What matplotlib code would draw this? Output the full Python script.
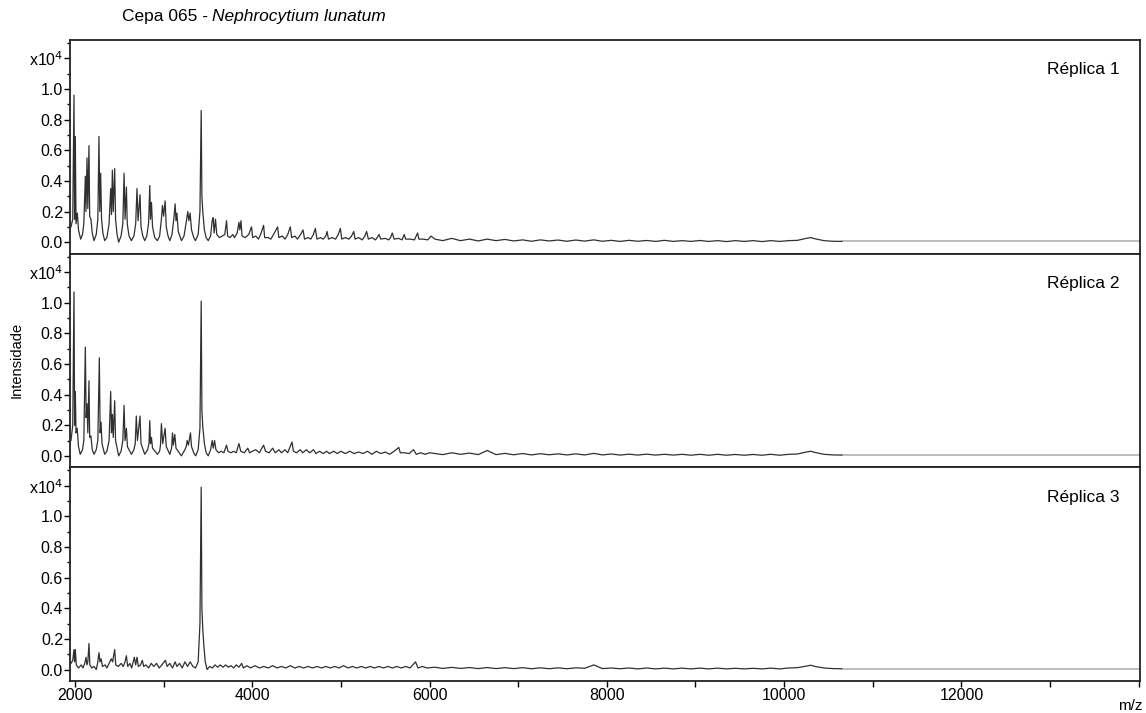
import numpy as np
import matplotlib
matplotlib.use('Agg')
import matplotlib.pyplot as plt
from matplotlib.ticker import MultipleLocator, FixedLocator

plt.rcParams['font.family'] = ['Liberation Sans', 'DejaVu Sans']

# ---- dados (intensidade em x10^4) ----
labels = ['Réplica 1', 'Réplica 2', 'Réplica 3']

rep1_low_mz = [1955, 1975, 1989, 1996, 2004, 2012, 2027, 2040, 2064, 2085, 2100, 2117, 2124, 2136, 2145,
               2158, 2166, 2180, 2195, 2215, 2240, 2258, 2271, 2280, 2290, 2300, 2315, 2335, 2360, 2385,
               2403, 2412, 2422, 2432, 2448, 2458, 2475, 2493, 2520, 2540, 2554, 2565, 2580, 2590, 2610,
               2637, 2665, 2685, 2700, 2712, 2734, 2745, 2765, 2787, 2810, 2830, 2844, 2852, 2863, 2875,
               2900, 2930, 2955, 2975, 2987, 3000, 3017, 3030, 3050, 3070, 3095, 3115, 3130, 3140, 3150,
               3165, 3201, 3230, 3255, 3273, 3285, 3299, 3315, 3340, 3359, 3390, 3410, 3424, 3432, 3442,
               3460, 3480, 3503, 3530, 3548, 3559, 3570, 3585, 3600, 3630, 3660, 3690, 3710, 3722, 3750,
               3780, 3800, 3830, 3850, 3860, 3873, 3885, 3920, 3960, 3992, 4005, 4040, 4070, 4100, 4128,
               4140, 4180, 4210, 4240, 4286, 4300, 4340, 4370, 4400, 4429, 4445, 4480, 4510, 4545, 4573,
               4590, 4630, 4660, 4690, 4712, 4730, 4770, 4800, 4830, 4844, 4860, 4900, 4940, 4970, 4994,
               5010, 5050, 5090, 5120, 5145, 5160, 5200, 5240, 5270, 5290, 5310, 5350, 5390, 5410, 5430,
               5450, 5500, 5540, 5560, 5580, 5600, 5650, 5690, 5715, 5730, 5780, 5830, 5865, 5880, 5930,
               5980, 6017]
rep1_low_int = [0.10, 0.15, 0.96, 0.15, 0.69, 0.12, 0.19, 0.08, 0.02, 0.05, 0.12, 0.43, 0.20, 0.55, 0.22,
                0.63, 0.17, 0.15, 0.06, 0.01, 0.05, 0.15, 0.69, 0.20, 0.45, 0.15, 0.06, 0.01, 0.03, 0.12,
                0.35, 0.18, 0.47, 0.20, 0.48, 0.15, 0.05, 0.00, 0.04, 0.12, 0.45, 0.15, 0.36, 0.12, 0.04,
                0.01, 0.04, 0.12, 0.35, 0.14, 0.31, 0.10, 0.04, 0.01, 0.04, 0.12, 0.37, 0.15, 0.26, 0.10,
                0.03, 0.01, 0.04, 0.15, 0.24, 0.17, 0.27, 0.10, 0.04, 0.01, 0.05, 0.15, 0.25, 0.14, 0.19,
                0.07, 0.01, 0.04, 0.13, 0.20, 0.14, 0.19, 0.08, 0.03, 0.01, 0.05, 0.20, 0.86, 0.30, 0.20,
                0.08, 0.03, 0.01, 0.04, 0.14, 0.16, 0.06, 0.15, 0.05, 0.03, 0.04, 0.05, 0.14, 0.04, 0.03,
                0.05, 0.03, 0.06, 0.13, 0.08, 0.14, 0.04, 0.03, 0.05, 0.10, 0.03, 0.04, 0.02, 0.06, 0.11,
                0.03, 0.03, 0.02, 0.05, 0.10, 0.03, 0.04, 0.02, 0.05, 0.10, 0.03, 0.04, 0.02, 0.05, 0.08,
                0.02, 0.03, 0.02, 0.05, 0.09, 0.02, 0.03, 0.02, 0.04, 0.07, 0.02, 0.03, 0.02, 0.05, 0.09,
                0.02, 0.03, 0.02, 0.04, 0.07, 0.02, 0.03, 0.015, 0.04, 0.07, 0.02, 0.03, 0.015, 0.03, 0.05,
                0.02, 0.025, 0.015, 0.03, 0.06, 0.02, 0.025, 0.015, 0.05, 0.02, 0.02, 0.015, 0.06, 0.02, 0.02,
                0.015, 0.04]

rep2_low_mz = [1955, 1975, 1989, 1996, 2004, 2012, 2025, 2040, 2060, 2085, 2100, 2117, 2126, 2136, 2145,
               2158, 2166, 2180, 2195, 2215, 2240, 2258, 2275, 2284, 2294, 2305, 2335, 2360, 2385, 2403,
               2412, 2422, 2432, 2448, 2458, 2493, 2520, 2540, 2554, 2565, 2580, 2592, 2637, 2665, 2680,
               2692, 2705, 2734, 2745, 2787, 2820, 2835, 2844, 2852, 2863, 2875, 2930, 2955, 2965, 2975,
               2990, 3017, 3030, 3070, 3090, 3100, 3110, 3126, 3140, 3201, 3240, 3255, 3266, 3280, 3303,
               3315, 3340, 3362, 3390, 3410, 3424, 3432, 3442, 3460, 3480, 3503, 3530, 3548, 3560, 3575,
               3590, 3620, 3650, 3680, 3710, 3725, 3760, 3790, 3820, 3850, 3870, 3910, 3950, 3970, 4000,
               4040, 4080, 4128, 4150, 4190, 4230, 4260, 4300, 4330, 4370, 4400, 4448, 4465, 4500, 4540,
               4570, 4610, 4650, 4690, 4720, 4760, 4800, 4840, 4870, 4920, 4960, 5000, 5050, 5100, 5150,
               5200, 5250, 5300, 5350, 5400, 5450, 5500, 5550, 5600, 5653, 5670, 5720, 5770, 5820, 5850,
               5900, 5950, 6000]
rep2_low_int = [0.10, 0.20, 1.07, 0.20, 0.42, 0.15, 0.18, 0.06, 0.01, 0.04, 0.10, 0.71, 0.25, 0.34, 0.15,
                0.49, 0.12, 0.13, 0.04, 0.01, 0.04, 0.10, 0.64, 0.15, 0.22, 0.08, 0.01, 0.03, 0.10, 0.42,
                0.15, 0.27, 0.12, 0.36, 0.10, 0.00, 0.03, 0.10, 0.33, 0.10, 0.18, 0.06, 0.01, 0.04, 0.08,
                0.26, 0.10, 0.26, 0.08, 0.01, 0.04, 0.08, 0.23, 0.08, 0.12, 0.05, 0.01, 0.03, 0.07, 0.21,
                0.08, 0.18, 0.06, 0.01, 0.05, 0.15, 0.07, 0.14, 0.05, 0.00, 0.04, 0.06, 0.10, 0.07, 0.15,
                0.06, 0.02, 0.00, 0.04, 0.18, 1.01, 0.30, 0.19, 0.08, 0.02, 0.00, 0.04, 0.10, 0.05, 0.10,
                0.04, 0.02, 0.03, 0.02, 0.07, 0.03, 0.02, 0.03, 0.02, 0.08, 0.03, 0.02, 0.05, 0.02, 0.03,
                0.04, 0.02, 0.07, 0.03, 0.02, 0.05, 0.02, 0.04, 0.02, 0.04, 0.02, 0.09, 0.03, 0.02, 0.04,
                0.02, 0.04, 0.02, 0.04, 0.015, 0.03, 0.015, 0.03, 0.015, 0.03, 0.015, 0.03, 0.015, 0.03, 0.015,
                0.025, 0.015, 0.03, 0.01, 0.03, 0.015, 0.025, 0.01, 0.03, 0.055, 0.02, 0.02, 0.015, 0.04, 0.01,
                0.02, 0.01, 0.02]

rep3_low_mz = [1955, 1975, 1989, 1996, 2004, 2015, 2040, 2070, 2090, 2110, 2125, 2135, 2145, 2158, 2168,
               2190, 2215, 2240, 2255, 2271, 2282, 2295, 2310, 2340, 2360, 2385, 2410, 2425, 2448, 2460,
               2490, 2520, 2545, 2565, 2580, 2595, 2620, 2640, 2670, 2685, 2700, 2715, 2740, 2760, 2775,
               2800, 2830, 2860, 2890, 2920, 2950, 2980, 3020, 3040, 3070, 3100, 3130, 3150, 3180, 3210,
               3240, 3270, 3300, 3330, 3360, 3390, 3410, 3424, 3432, 3442, 3455, 3470, 3490, 3520, 3550,
               3580, 3610, 3640, 3670, 3700, 3730, 3760, 3790, 3820, 3850, 3880, 3900, 3940, 3980, 4030,
               4080, 4130, 4180, 4230, 4280, 4330, 4380, 4430, 4480, 4530, 4580, 4630, 4680, 4730, 4780,
               4830, 4880, 4930, 4980, 5030, 5080, 5130, 5180, 5230, 5280, 5330, 5380, 5430, 5480, 5530,
               5580, 5630, 5680, 5730, 5780, 5842, 5870, 5920, 5970]
rep3_low_int = [0.04, 0.06, 0.13, 0.05, 0.13, 0.03, 0.01, 0.03, 0.01, 0.04, 0.08, 0.03, 0.05, 0.17, 0.03,
                0.01, 0.02, 0.00, 0.04, 0.11, 0.05, 0.07, 0.02, 0.03, 0.01, 0.04, 0.07, 0.05, 0.13, 0.03,
                0.02, 0.04, 0.02, 0.05, 0.09, 0.02, 0.04, 0.01, 0.08, 0.03, 0.08, 0.02, 0.03, 0.06, 0.02,
                0.03, 0.01, 0.04, 0.02, 0.04, 0.01, 0.03, 0.06, 0.02, 0.04, 0.01, 0.05, 0.02, 0.04, 0.01,
                0.05, 0.02, 0.05, 0.02, 0.01, 0.05, 0.30, 1.19, 0.40, 0.26, 0.15, 0.05, 0.00, 0.02, 0.01,
                0.03, 0.015, 0.03, 0.015, 0.03, 0.015, 0.025, 0.01, 0.03, 0.015, 0.04, 0.01, 0.025, 0.01, 0.025,
                0.01, 0.02, 0.01, 0.025, 0.01, 0.02, 0.01, 0.025, 0.01, 0.02, 0.01, 0.02, 0.01, 0.02, 0.01,
                0.02, 0.01, 0.02, 0.01, 0.025, 0.01, 0.02, 0.01, 0.02, 0.01, 0.02, 0.01, 0.02, 0.01, 0.02,
                0.01, 0.02, 0.01, 0.02, 0.01, 0.05, 0.01, 0.02, 0.01]

# cauda comum (m/z) e intensidades de cada réplica
tail_mz = [6060, 6150, 6250, 6350, 6450, 6550, 6650, 6750, 6850, 6950, 7050, 7150, 7250, 7350, 7450,
           7550, 7650, 7750, 7853, 7950, 8050, 8150, 8250, 8350, 8450, 8550, 8650, 8750, 8850, 8950,
           9050, 9150, 9250, 9350, 9450, 9550, 9650, 9750, 9850, 9950, 10050, 10150, 10250, 10300, 10350,
           10450, 10550, 10650]
rep1_tail_int = [0.02, 0.01, 0.025, 0.01, 0.02, 0.008, 0.02, 0.01, 0.018, 0.008, 0.015, 0.006, 0.015, 0.008, 0.014,
                 0.006, 0.014, 0.007, 0.015, 0.006, 0.012, 0.005, 0.012, 0.006, 0.011, 0.005, 0.012, 0.005, 0.01, 0.005,
                 0.011, 0.005, 0.01, 0.004, 0.01, 0.005, 0.01, 0.004, 0.01, 0.005, 0.01, 0.012, 0.025, 0.03, 0.022,
                 0.01, 0.006, 0.005]
rep2_tail_int = [0.015, 0.008, 0.02, 0.01, 0.018, 0.008, 0.035, 0.008, 0.016, 0.007, 0.015, 0.006, 0.014, 0.007, 0.013,
                 0.006, 0.013, 0.006, 0.016, 0.006, 0.012, 0.005, 0.011, 0.005, 0.011, 0.005, 0.01, 0.005, 0.01, 0.004,
                 0.01, 0.004, 0.01, 0.004, 0.009, 0.004, 0.009, 0.004, 0.01, 0.004, 0.01, 0.012, 0.025, 0.03, 0.022,
                 0.01, 0.006, 0.005]
rep3_tail_int = [0.015, 0.007, 0.014, 0.007, 0.013, 0.006, 0.013, 0.006, 0.012, 0.006, 0.012, 0.005, 0.011, 0.005, 0.011,
                 0.005, 0.011, 0.008, 0.03, 0.006, 0.01, 0.005, 0.01, 0.004, 0.01, 0.004, 0.009, 0.004, 0.009, 0.004,
                 0.009, 0.004, 0.009, 0.004, 0.008, 0.004, 0.008, 0.004, 0.009, 0.004, 0.01, 0.012, 0.022, 0.028, 0.02,
                 0.01, 0.006, 0.005]

series = [
    (rep1_low_mz + tail_mz, rep1_low_int + rep1_tail_int),
    (rep2_low_mz + tail_mz, rep2_low_int + rep2_tail_int),
    (rep3_low_mz + tail_mz, rep3_low_int + rep3_tail_int),
]

x_min, x_max = 1944, 14015
y_min, y_max = -0.075, 1.32

fig = plt.figure(figsize=(11.46, 7.13), dpi=100)
gs = fig.add_gridspec(3, 1, left=70/1146, right=1140/1146, bottom=1-681/713, top=1-40/713, hspace=0)

for i, (mz, inten) in enumerate(series):
    ax = fig.add_subplot(gs[i])
    # linha cinzenta (fim do espectro)
    ax.plot([mz[-1], x_max], [inten[-1], inten[-1]], color='#b8b8b8', lw=1.3, zorder=1)
    ax.plot(mz, inten, color='#303030', lw=0.9, zorder=2)
    ax.set_xlim(x_min, x_max)
    ax.set_ylim(y_min, y_max)

    ax.yaxis.set_major_locator(FixedLocator([0.0, 0.2, 0.4, 0.6, 0.8, 1.0, 1.2]))
    ax.set_yticklabels(['0.0', '0.2', '0.4', '0.6', '0.8', '1.0', 'x10$^{4}$'])
    ax.yaxis.set_minor_locator(MultipleLocator(0.1))
    ax.tick_params(axis='y', which='major', length=4, width=1, labelsize=11.5, pad=1)
    ax.tick_params(axis='y', which='minor', length=2.5, width=1)

    for s in ax.spines.values():
        s.set_linewidth(1.3)
        s.set_color('#222222')

    ax.text(0.981, 0.86, labels[i], transform=ax.transAxes, ha='right', va='center', fontsize=12.5)

    if i < 2:
        ax.tick_params(axis='x', which='both', bottom=False, labelbottom=False)
    else:
        ax.set_xticks([2000, 4000, 6000, 8000, 10000, 12000])
        ax.set_xticks([3000, 5000, 7000, 9000, 11000, 13000, 14000], minor=True)
        ax.tick_params(axis='x', which='both', length=4, width=1, labelsize=11.5, pad=1)

# título: parte normal + nome da espécie em itálico
t1 = fig.text(122/1146, 1-17/713, 'Cepa 065 -', ha='left', va='center', fontsize=12.5)
fig.canvas.draw()
bb = t1.get_window_extent()
x_next = (bb.x1 + 4) / fig.bbox.width
fig.text(x_next, 1-17/713, 'Nephrocytium lunatum', ha='left', va='center', fontsize=12.5, style='italic')

fig.text(17/1146, 1-360/713, 'Intensidade', rotation=90, ha='center', va='center', fontsize=10.5)
fig.text(1130/1146, 1-706/713, 'm/z', ha='center', va='center', fontsize=11)

fig.savefig('out.png', dpi=100)
